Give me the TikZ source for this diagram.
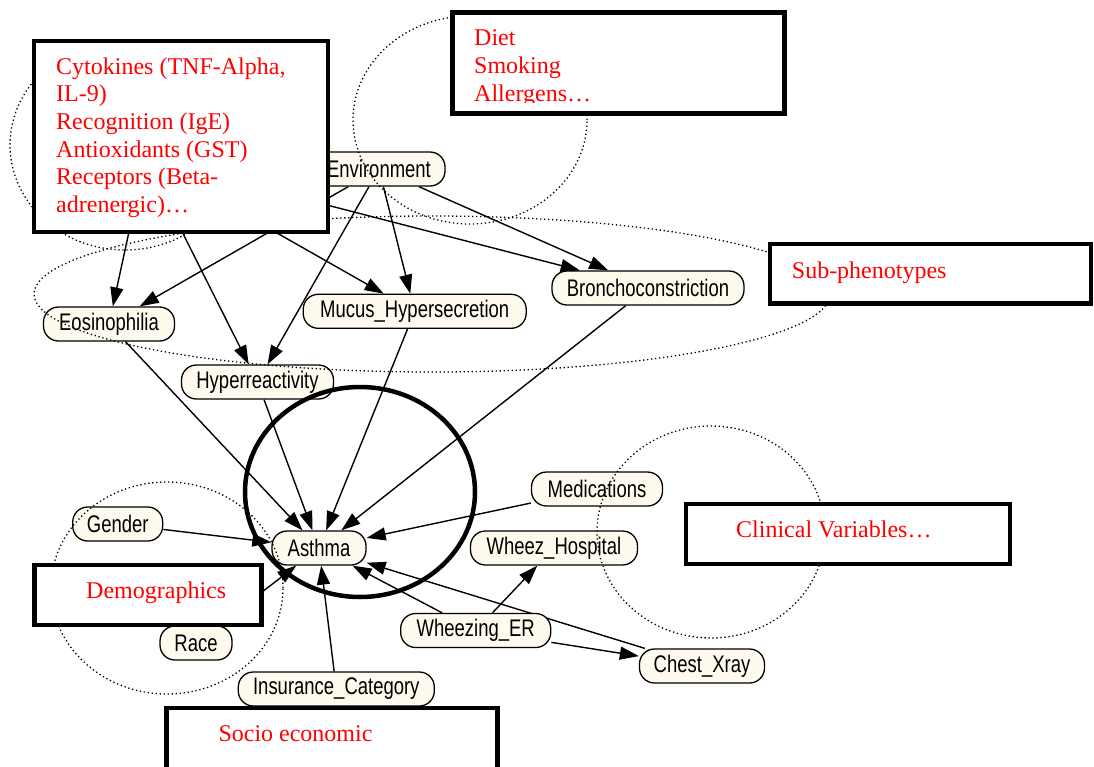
\documentclass[tikz,border=0pt]{standalone}
\usepackage{fontspec}
\setmainfont{Liberation Serif}
\newfontfamily\narrowsans[FakeStretch=0.77]{Liberation Sans}
\usetikzlibrary{arrows.meta,backgrounds}
\definecolor{cream}{RGB}{255,250,238}

\begin{document}
\begin{tikzpicture}[x=1pt,y=-1pt,
  var/.style={draw, line width=1.3pt, fill=cream, rounded corners=15pt,
    minimum height=34pt, inner sep=0pt, font=\narrowsans\fontsize{24}{28}\selectfont},
  conn/.style={line width=1.4pt, -{Triangle[length=19pt,width=13pt]}},
  group/.style={line width=1.3pt, dash pattern=on 1.3pt off 2.7pt},
  core/.style={line width=4.5pt},
  redbox/.style={draw, line width=4.8pt, fill=white, inner sep=0pt},
  redtext/.style={text=red, inner sep=0pt, align=left,
    font=\fontsize{24}{27.6}\selectfont}]

\useasboundingbox (0,0) rectangle (1094,766);
\clip (0,0) rectangle (1094,766);

% hidden source of the genetic factors
\coordinate (gen) at (145,158);

% variables
\node[var, minimum width=132pt] (env)    at (379,169)   {Environment};
\node[var, minimum width=131pt] (eos)    at (109,324)   {Eosinophilia};
\node[var, minimum width=152pt] (hyp)    at (257.5,382) {Hyperreactivity};
\node[var, minimum width=223pt] (mucus)  at (414.7,311.3) {Mucus\_Hypersecretion};
\node[var, minimum width=192pt] (bron)   at (648,288)   {Bronchoconstriction};
\node[var, minimum width=94pt]  (asthma) at (319,548)   {Asthma};
\node[var, minimum width=90pt]  (gender) at (117.7,524) {Gender};
\node[var, minimum width=72pt]  (race)   at (196,643)   {Race};
\node[var, minimum width=196pt] (ins)    at (336.3,689) {Insurance\_Category};
\node[var, minimum width=131pt] (med)    at (597,489)   {Medications};
\node[var, minimum width=167pt] (whosp)  at (554,548)   {Wheez\_Hospital};
\node[var, minimum width=150pt] (wer)    at (475.7,630.5) {Wheezing\_ER};
\node[var, minimum width=125pt] (chest)  at (702,666)   {Chest\_Xray};

% dependencies
\begin{pgfonlayer}{background}
\draw[conn] (gen) -- (eos);
\draw[conn] (gen) -- (hyp);
\draw[conn] (gen) -- (mucus);
\draw[conn] (gen) -- (bron);
\draw[conn] (env) -- (eos);
\draw[conn] (env) -- (hyp);
\draw[conn] (env) -- (mucus);
\draw[conn] (env) -- (bron);
\draw[conn] (eos) -- (asthma);
\draw[conn] (hyp) -- (asthma);
\draw[conn] (mucus) -- (asthma);
\draw[conn] (bron) -- (asthma);
\draw[conn] (med) -- (asthma);
\draw[conn] (gender) -- (asthma);
\draw[conn] (race) -- (asthma);
\draw[conn] (ins) -- (asthma);
\draw[conn] (wer) -- (asthma);
\draw[conn] (chest) -- (asthma);
\draw[conn] (wer) -- (whosp);
\draw[conn] (wer) -- (chest);
\end{pgfonlayer}

% dotted groupings
\draw[group] (125,145) ellipse [x radius=115pt, y radius=105pt];
\draw[group] (470,120) ellipse [x radius=117pt, y radius=104pt];
\draw[group] (432,294) ellipse [x radius=398pt, y radius=78pt];
\draw[group] (167,588) ellipse [x radius=116pt, y radius=106pt];
\draw[group] (711,532) ellipse [x radius=114pt, y radius=106pt];

% the outcome
\draw[core] (360,492) ellipse [x radius=115pt, y radius=105pt];

% factor boxes
\node[redbox, minimum width=294pt, minimum height=191pt] (genbox) at (181,136.5) {};
\node[redtext, anchor=north west] (gentext) at (56,54.7)
  {\strut Cytokines (TNF-Alpha,\\IL-9)\\Recognition (IgE)\\Antioxidants (GST)\\Receptors (Beta-\\adrenergic)\dots};

\node[redbox, minimum width=332pt, minimum height=100.8pt] (envbox) at (618.5,62.9) {};
\begin{scope}
\clip (450,0) rectangle (790,102);
\node[redtext, anchor=north west] (envtext) at (474,26.4)
  {\strut Diet\\Smoking\\Allergens\dots};
\end{scope}

\node[redbox, minimum width=321pt, minimum height=59.5pt] (subbox) at (930.5,273.75) {};
\node[redtext, anchor=base west] (subtext) at (791.7,278.3) {Sub-phenotypes};

\node[redbox, minimum width=324pt, minimum height=60pt] (clinbox) at (848,534) {};
\node[redtext, anchor=base west] (clintext) at (736,537.7) {Clinical Variables\dots};

\node[redbox, minimum width=227pt, minimum height=60pt] (demobox) at (148,595) {};
\node[redtext, anchor=base west] (demotext) at (86,598.3) {Demographics};

\node[redbox, minimum width=331pt, minimum height=92pt] (sociobox) at (332,754) {};
\node[redtext, anchor=base west] (sociotext) at (218.3,741) {Socio economic};

\end{tikzpicture}
\end{document}
